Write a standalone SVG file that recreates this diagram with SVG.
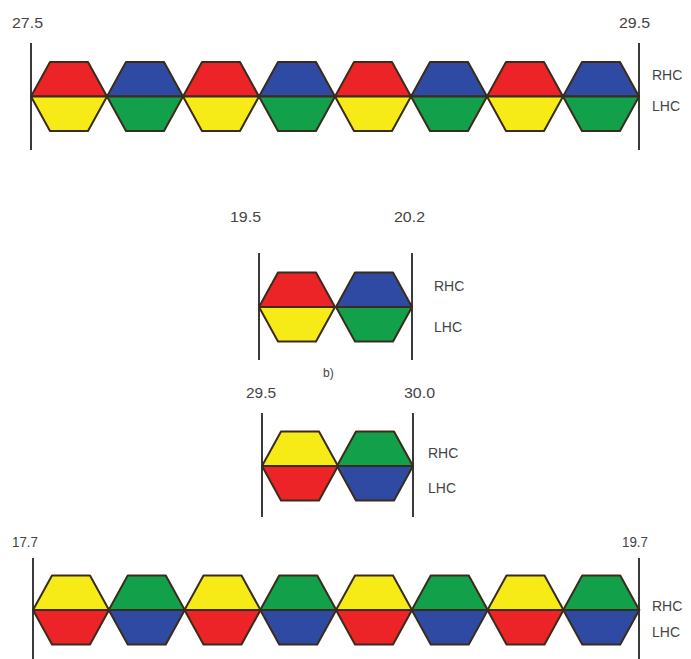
<svg xmlns="http://www.w3.org/2000/svg" xmlns:xlink="http://www.w3.org/1999/xlink" width="691" height="659" viewBox="0 0 691 659">
<style>
.r{fill:#ec2327}.b{fill:#2f4aa3}.y{fill:#f6ea17}.g{fill:#12a04b}
.half{stroke:#3a2c1c;stroke-width:2;stroke-linejoin:round}
.axis{stroke:#3a3a3a;stroke-width:2}
text{font-family:"Liberation Sans",Arial,sans-serif;fill:#444;font-size:14px}
.n{font-size:14px}
.sm{font-size:12px}
</style>
<defs>
<path id="top" class="half" d="M0,0 L19,-34.5 L57,-34.5 L76,0 Z"/>
<path id="bot" class="half" d="M0,0 L19,34.5 L57,34.5 L76,0 Z"/>
</defs>
<rect width="691" height="659" fill="#fff"/>

<g id="row1">
<line class="axis" x1="31" y1="43" x2="31" y2="150"/>
<line class="axis" x1="639" y1="43" x2="639" y2="150"/>
<g id="r1h1" transform="translate(31,96.5)"><use xlink:href="#top" class="r"/><use xlink:href="#bot" class="y"/></g>
<g id="r1h2" transform="translate(107,96.5)"><use xlink:href="#top" class="b"/><use xlink:href="#bot" class="g"/></g>
<g id="r1h3" transform="translate(183,96.5)"><use xlink:href="#top" class="r"/><use xlink:href="#bot" class="y"/></g>
<g id="r1h4" transform="translate(259,96.5)"><use xlink:href="#top" class="b"/><use xlink:href="#bot" class="g"/></g>
<g id="r1h5" transform="translate(335,96.5)"><use xlink:href="#top" class="r"/><use xlink:href="#bot" class="y"/></g>
<g id="r1h6" transform="translate(411,96.5)"><use xlink:href="#top" class="b"/><use xlink:href="#bot" class="g"/></g>
<g id="r1h7" transform="translate(487,96.5)"><use xlink:href="#top" class="r"/><use xlink:href="#bot" class="y"/></g>
<g id="r1h8" transform="translate(563,96.5)"><use xlink:href="#top" class="b"/><use xlink:href="#bot" class="g"/></g>
<text class="n" x="12" y="28" textLength="31" lengthAdjust="spacingAndGlyphs">27.5</text>
<text class="n" x="619" y="28" textLength="31" lengthAdjust="spacingAndGlyphs">29.5</text>
<text x="652" y="80">RHC</text>
<text x="652" y="111">LHC</text>
</g>

<g id="row2">
<line class="axis" x1="259" y1="253" x2="259" y2="360"/>
<line class="axis" x1="412" y1="253" x2="412" y2="360"/>
<g id="r2h1" transform="translate(259,307)"><use xlink:href="#top" class="r"/><use xlink:href="#bot" class="y"/></g>
<g id="r2h2" transform="translate(336,307)"><use xlink:href="#top" class="b"/><use xlink:href="#bot" class="g"/></g>
<text class="n" x="230" y="222" textLength="31" lengthAdjust="spacingAndGlyphs">19.5</text>
<text class="n" x="394" y="222" textLength="31" lengthAdjust="spacingAndGlyphs">20.2</text>
<text x="434" y="291">RHC</text>
<text x="434" y="332">LHC</text>
<text class="sm" x="323" y="377">b)</text>
</g>

<g id="row3">
<line class="axis" x1="262" y1="413" x2="262" y2="517"/>
<line class="axis" x1="413" y1="413" x2="413" y2="517"/>
<g id="r3h1" transform="translate(262,466)"><use xlink:href="#top" class="y"/><use xlink:href="#bot" class="r"/></g>
<g id="r3h2" transform="translate(337,466)"><use xlink:href="#top" class="g"/><use xlink:href="#bot" class="b"/></g>
<text class="n" x="246" y="398" textLength="30" lengthAdjust="spacingAndGlyphs">29.5</text>
<text class="n" x="404" y="398" textLength="31" lengthAdjust="spacingAndGlyphs">30.0</text>
<text x="428" y="458">RHC</text>
<text x="428" y="493">LHC</text>
</g>

<g id="row4">
<line class="axis" x1="33" y1="558" x2="33" y2="659"/>
<line class="axis" x1="639" y1="558" x2="639" y2="659"/>
<g id="r4h1" transform="translate(33,610)"><use xlink:href="#top" class="y"/><use xlink:href="#bot" class="r"/></g>
<g id="r4h2" transform="translate(108.75,610)"><use xlink:href="#top" class="g"/><use xlink:href="#bot" class="b"/></g>
<g id="r4h3" transform="translate(184.5,610)"><use xlink:href="#top" class="y"/><use xlink:href="#bot" class="r"/></g>
<g id="r4h4" transform="translate(260.25,610)"><use xlink:href="#top" class="g"/><use xlink:href="#bot" class="b"/></g>
<g id="r4h5" transform="translate(336,610)"><use xlink:href="#top" class="y"/><use xlink:href="#bot" class="r"/></g>
<g id="r4h6" transform="translate(411.75,610)"><use xlink:href="#top" class="g"/><use xlink:href="#bot" class="b"/></g>
<g id="r4h7" transform="translate(487.5,610)"><use xlink:href="#top" class="y"/><use xlink:href="#bot" class="r"/></g>
<g id="r4h8" transform="translate(563.25,610)"><use xlink:href="#top" class="g"/><use xlink:href="#bot" class="b"/></g>
<text class="n" x="12" y="547" textLength="26" lengthAdjust="spacingAndGlyphs">17.7</text>
<text class="n" x="622" y="547" textLength="26" lengthAdjust="spacingAndGlyphs">19.7</text>
<text x="652" y="611">RHC</text>
<text x="652" y="637">LHC</text>
</g>
</svg>
